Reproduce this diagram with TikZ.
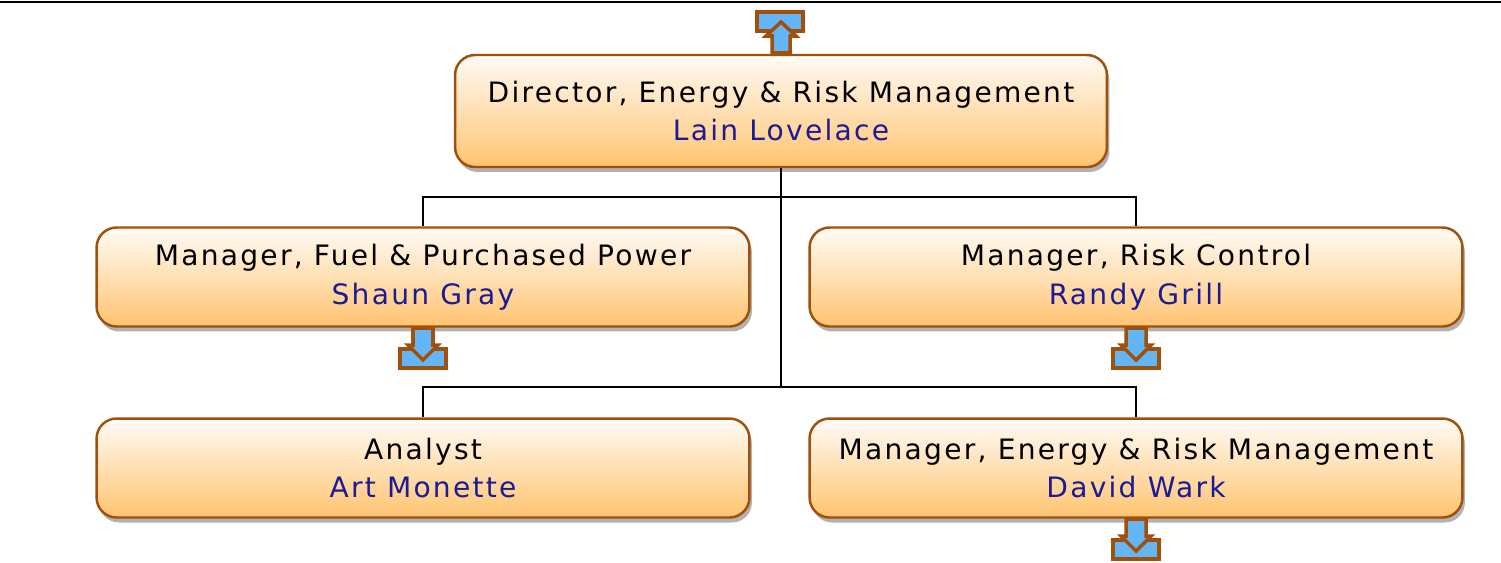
\documentclass[tikz,border=0pt]{standalone}
\usepackage{fontspec}
\setmainfont[LetterSpace=8]{DejaVu Sans}
\usetikzlibrary{shadows}
\definecolor{boxline}{HTML}{A0500A}
\definecolor{boxtop}{HTML}{FFFBF6}
\definecolor{boxbot}{HTML}{FFC470}
\definecolor{namecol}{HTML}{1C1A94}
\definecolor{iconfill}{HTML}{64B5F6}
\tikzset{
  unitbox/.style={draw=boxline, line width=1.4pt, rounded corners=0.4cm,
    top color=boxtop, bottom color=boxbot, align=center, inner sep=0pt,
    font=\fontsize{16}{22}\selectfont,
    drop shadow={shadow xshift=0.05cm, shadow yshift=-0.1cm, fill=black!30, opacity=1}},
  link/.style={draw=black, line width=1.1pt},
  icon/.style={draw=boxline, fill=iconfill, line width=2pt, line join=miter}
}
\newcommand{\nm}[1]{\textcolor{namecol}{#1}}
\begin{document}
\begin{tikzpicture}[x=0.02cm, y=-0.02cm]
\useasboundingbox (0,0) rectangle (1501,562);
\draw[line width=1.5pt] (0,2) -- (1501,2);
\node[unitbox, minimum width=13.04cm, minimum height=2.24cm] (tid0) at (781,111){Director, Energy \& Risk Management\\\nm{Lain Lovelace}};
\node[unitbox, minimum width=13.06cm, minimum height=1.98cm] (tid1) at (423,277){Manager, Fuel \& Purchased Power\\\nm{Shaun Gray}};
\node[unitbox, minimum width=13.06cm, minimum height=1.98cm] (tid2) at (1136,277){Manager, Risk Control\\\nm{Randy Grill}};
\node[unitbox, minimum width=13.06cm, minimum height=1.98cm] (tid3) at (423,468){Analyst\\\nm{Art Monette}};
\node[unitbox, minimum width=13.06cm, minimum height=1.98cm] (tid4) at (1136,468){Manager, Energy \& Risk Management\\\nm{David Wark}};
\coordinate (j0) at (781,197);
\coordinate (j1) at (781,387);
\draw[link] (tid0.south) -- (j0) -- (j1);
\draw[link] (j0) -| (tid1.north);
\draw[link] (j0) -| (tid2.north);
\draw[link] (j1) -| (tid3.north);
\draw[link] (j1) -| (tid4.north);
% up icon above the top box
\draw[icon] (757,12) rectangle (803,31);
\draw[icon] (772,53) -- (790,53) -- (790,36) -- (796,36) -- (781,22) -- (766,36) -- (772,36) -- cycle;
% down icons below the boxes
\foreach \cx/\ty in {423/328, 1136/328, 1136/519}{
  \draw[icon] (\cx-23,\ty+21) rectangle (\cx+23,\ty+40);
  \draw[icon] (\cx-10,\ty) -- (\cx+10,\ty) -- (\cx+10,\ty+17) -- (\cx+15,\ty+17) -- (\cx,\ty+32) -- (\cx-15,\ty+17) -- (\cx-10,\ty+17) -- cycle;
}
\end{tikzpicture}
\end{document}
